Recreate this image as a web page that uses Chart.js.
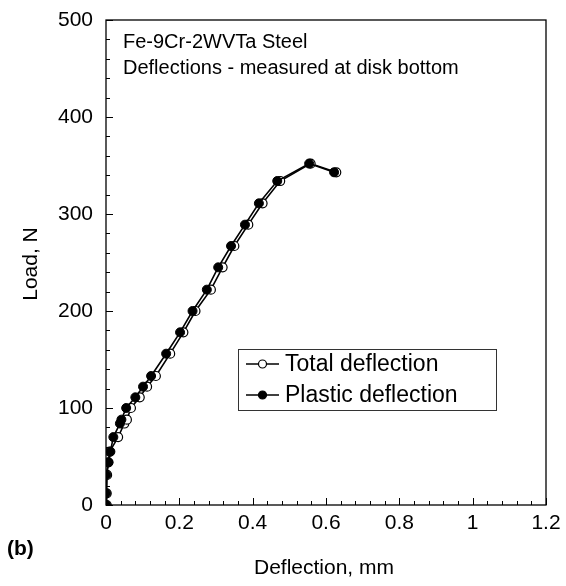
<!DOCTYPE html>
<html>
<head>
<meta charset="utf-8">
<script src="https://cdn.jsdelivr.net/npm/chart.js@4.4.1/dist/chart.umd.min.js"></script>
<style>
  html, body { margin: 0; padding: 0; background: #fff; }
  #wrap { width: 566px; height: 586px; position: relative; }
</style>
</head>
<body>
<div id="wrap"><canvas id="grafico" width="566" height="586"></canvas></div>
<script>
// ===== DADOS =====
const cargaN = [0, 12, 31, 44, 55, 70, 84, 88, 100, 111, 122, 133, 156, 178, 200, 222, 245, 267, 289, 311, 334, 352, 343];
const deflTotal = [0.002, 0.002, 0.003, 0.006, 0.010, 0.033, 0.050, 0.057, 0.068, 0.092, 0.112, 0.136, 0.175, 0.211, 0.244, 0.286, 0.318, 0.350, 0.388, 0.427, 0.475, 0.558, 0.628];
const deflPlastica = [0, 0, 0.001, 0.007, 0.012, 0.020, 0.038, 0.042, 0.055, 0.080, 0.101, 0.123, 0.164, 0.202, 0.236, 0.275, 0.306, 0.341, 0.379, 0.417, 0.467, 0.554, 0.622];

const ticksX = [0, 0.2, 0.4, 0.6, 0.8, 1, 1.2];
const ticksY = [0, 100, 200, 300, 400, 500];
const rotulos = ["Total deflection", "Plastic deflection"];
const titulo = ["Fe-9Cr-2WVTa Steel", "Deflections - measured at disk bottom"];

const fonte = "'Liberation Sans', Arial, sans-serif";

const serieTotal = cargaN.map((y, i) => ({ x: deflTotal[i], y: y }));
const seriePlastica = cargaN.map((y, i) => ({ x: deflPlastica[i], y: y }));

// ===== PLUGIN: moldura, marcas, textos e legenda =====
const extras = {
    id: "extras",
    afterDatasetsDraw(chart) {
        const { ctx, chartArea: a, scales } = chart;
        const sx = scales.x, sy = scales.y;
        ctx.save();
        ctx.strokeStyle = "#000";
        ctx.lineWidth = 1.3;
        ctx.strokeRect(a.left, a.top, a.right - a.left, a.bottom - a.top);

        // marcas menores/maiores (para dentro)
        ctx.lineWidth = 1;
        ctx.beginPath();
        for (let v = 0; v <= 500.01; v += 20) {
            const p = Math.round(sy.getPixelForValue(v)) + 0.5;
            const len = (Math.round(v) % 100 === 0) ? 7 : 4;
            ctx.moveTo(a.left, p); ctx.lineTo(a.left + len, p);
        }
        for (let k = 0; k <= 30; k++) {
            const v = k * 0.04;
            const p = Math.round(sx.getPixelForValue(v)) + 0.5;
            const len = (k % 5 === 0) ? 7 : 4;
            ctx.moveTo(p, a.bottom); ctx.lineTo(p, a.bottom - len);
        }
        ctx.stroke();

        // texto dentro do gráfico
        ctx.fillStyle = "#000";
        ctx.font = "20px " + fonte;
        ctx.textAlign = "left";
        ctx.textBaseline = "middle";
        ctx.fillText(titulo[0], 123, 42);
        ctx.fillText(titulo[1], 123, 68);

        // títulos dos eixos
        ctx.font = "21px " + fonte;
        ctx.textAlign = "center";
        ctx.fillText("Deflection, mm", (a.left + a.right) / 2 - 2, 568);
        ctx.save();
        ctx.translate(31, 264);
        ctx.rotate(-Math.PI / 2);
        ctx.fillText("Load, N", 0, 0);
        ctx.restore();
        ctx.font = "bold 21px " + fonte;
        ctx.textAlign = "left";
        ctx.fillText("(b)", 7, 549);

        // legenda
        ctx.strokeStyle = "#333";
        ctx.lineWidth = 1;
        ctx.strokeRect(238.5, 349.5, 258, 61);
        const linhas = [364, 395];
        chart.data.datasets.forEach((ds, i) => {
            const y = linhas[i];
            ctx.strokeStyle = "#000";
            ctx.lineWidth = 1.5;
            ctx.beginPath();
            ctx.moveTo(246, y); ctx.lineTo(279, y);
            ctx.stroke();
            ctx.beginPath();
            ctx.arc(262.5, y, 4, 0, Math.PI * 2);
            ctx.fillStyle = ds.pointBackgroundColor;
            ctx.fill();
            ctx.lineWidth = 1.2;
            ctx.stroke();
            ctx.fillStyle = "#000";
            ctx.font = "23px " + fonte;
            ctx.fillText(ds.label, 285, y + 1);
        });
        ctx.restore();
    }
};

// ===== GRÁFICO =====
const grafico = new Chart(document.getElementById("grafico"), {
    type: "scatter",
    data: {
        datasets: [
            {
                label: rotulos[0],
                data: serieTotal,
                showLine: true,
                borderColor: "#000",
                borderWidth: 1.6,
                pointRadius: 4.5,
                pointBorderWidth: 1.2,
                pointBorderColor: "#000",
                pointBackgroundColor: "#fff",
                order: 2
            },
            {
                label: rotulos[1],
                data: seriePlastica,
                showLine: true,
                borderColor: "#000",
                borderWidth: 1.6,
                pointRadius: 4.5,
                pointBorderWidth: 1,
                pointBorderColor: "#000",
                pointBackgroundColor: "#000",
                order: 1
            }
        ]
    },
    options: {
        responsive: false,
        animation: false,
        layout: { padding: { left: 0, top: 20, right: 20, bottom: 0 } },
        plugins: { legend: { display: false }, tooltip: { enabled: false } },
        scales: {
            x: {
                type: "linear",
                min: 0, max: 1.2,
                afterBuildTicks: (s) => { s.ticks = ticksX.map(v => ({ value: v })); },
                afterFit: (s) => { s.height = 81; s.paddingLeft = 0; s.paddingRight = 0; },
                grid: { display: false, drawTicks: false },
                border: { display: false },
                ticks: {
                    color: "#000",
                    font: { family: fonte, size: 21 },
                    padding: 6,
                    maxRotation: 0,
                    callback: (v) => String(Math.round(v * 10) / 10)
                }
            },
            y: {
                type: "linear",
                min: 0, max: 500,
                afterBuildTicks: (s) => { s.ticks = ticksY.map(v => ({ value: v })); },
                afterFit: (s) => { s.width = 106; s.paddingTop = 0; s.paddingBottom = 0; },
                grid: { display: false, drawTicks: false },
                border: { display: false },
                ticks: {
                    color: "#000",
                    font: { family: fonte, size: 21 },
                    padding: 13
                }
            }
        }
    },
    plugins: [extras]
});
</script>
</body>
</html>
